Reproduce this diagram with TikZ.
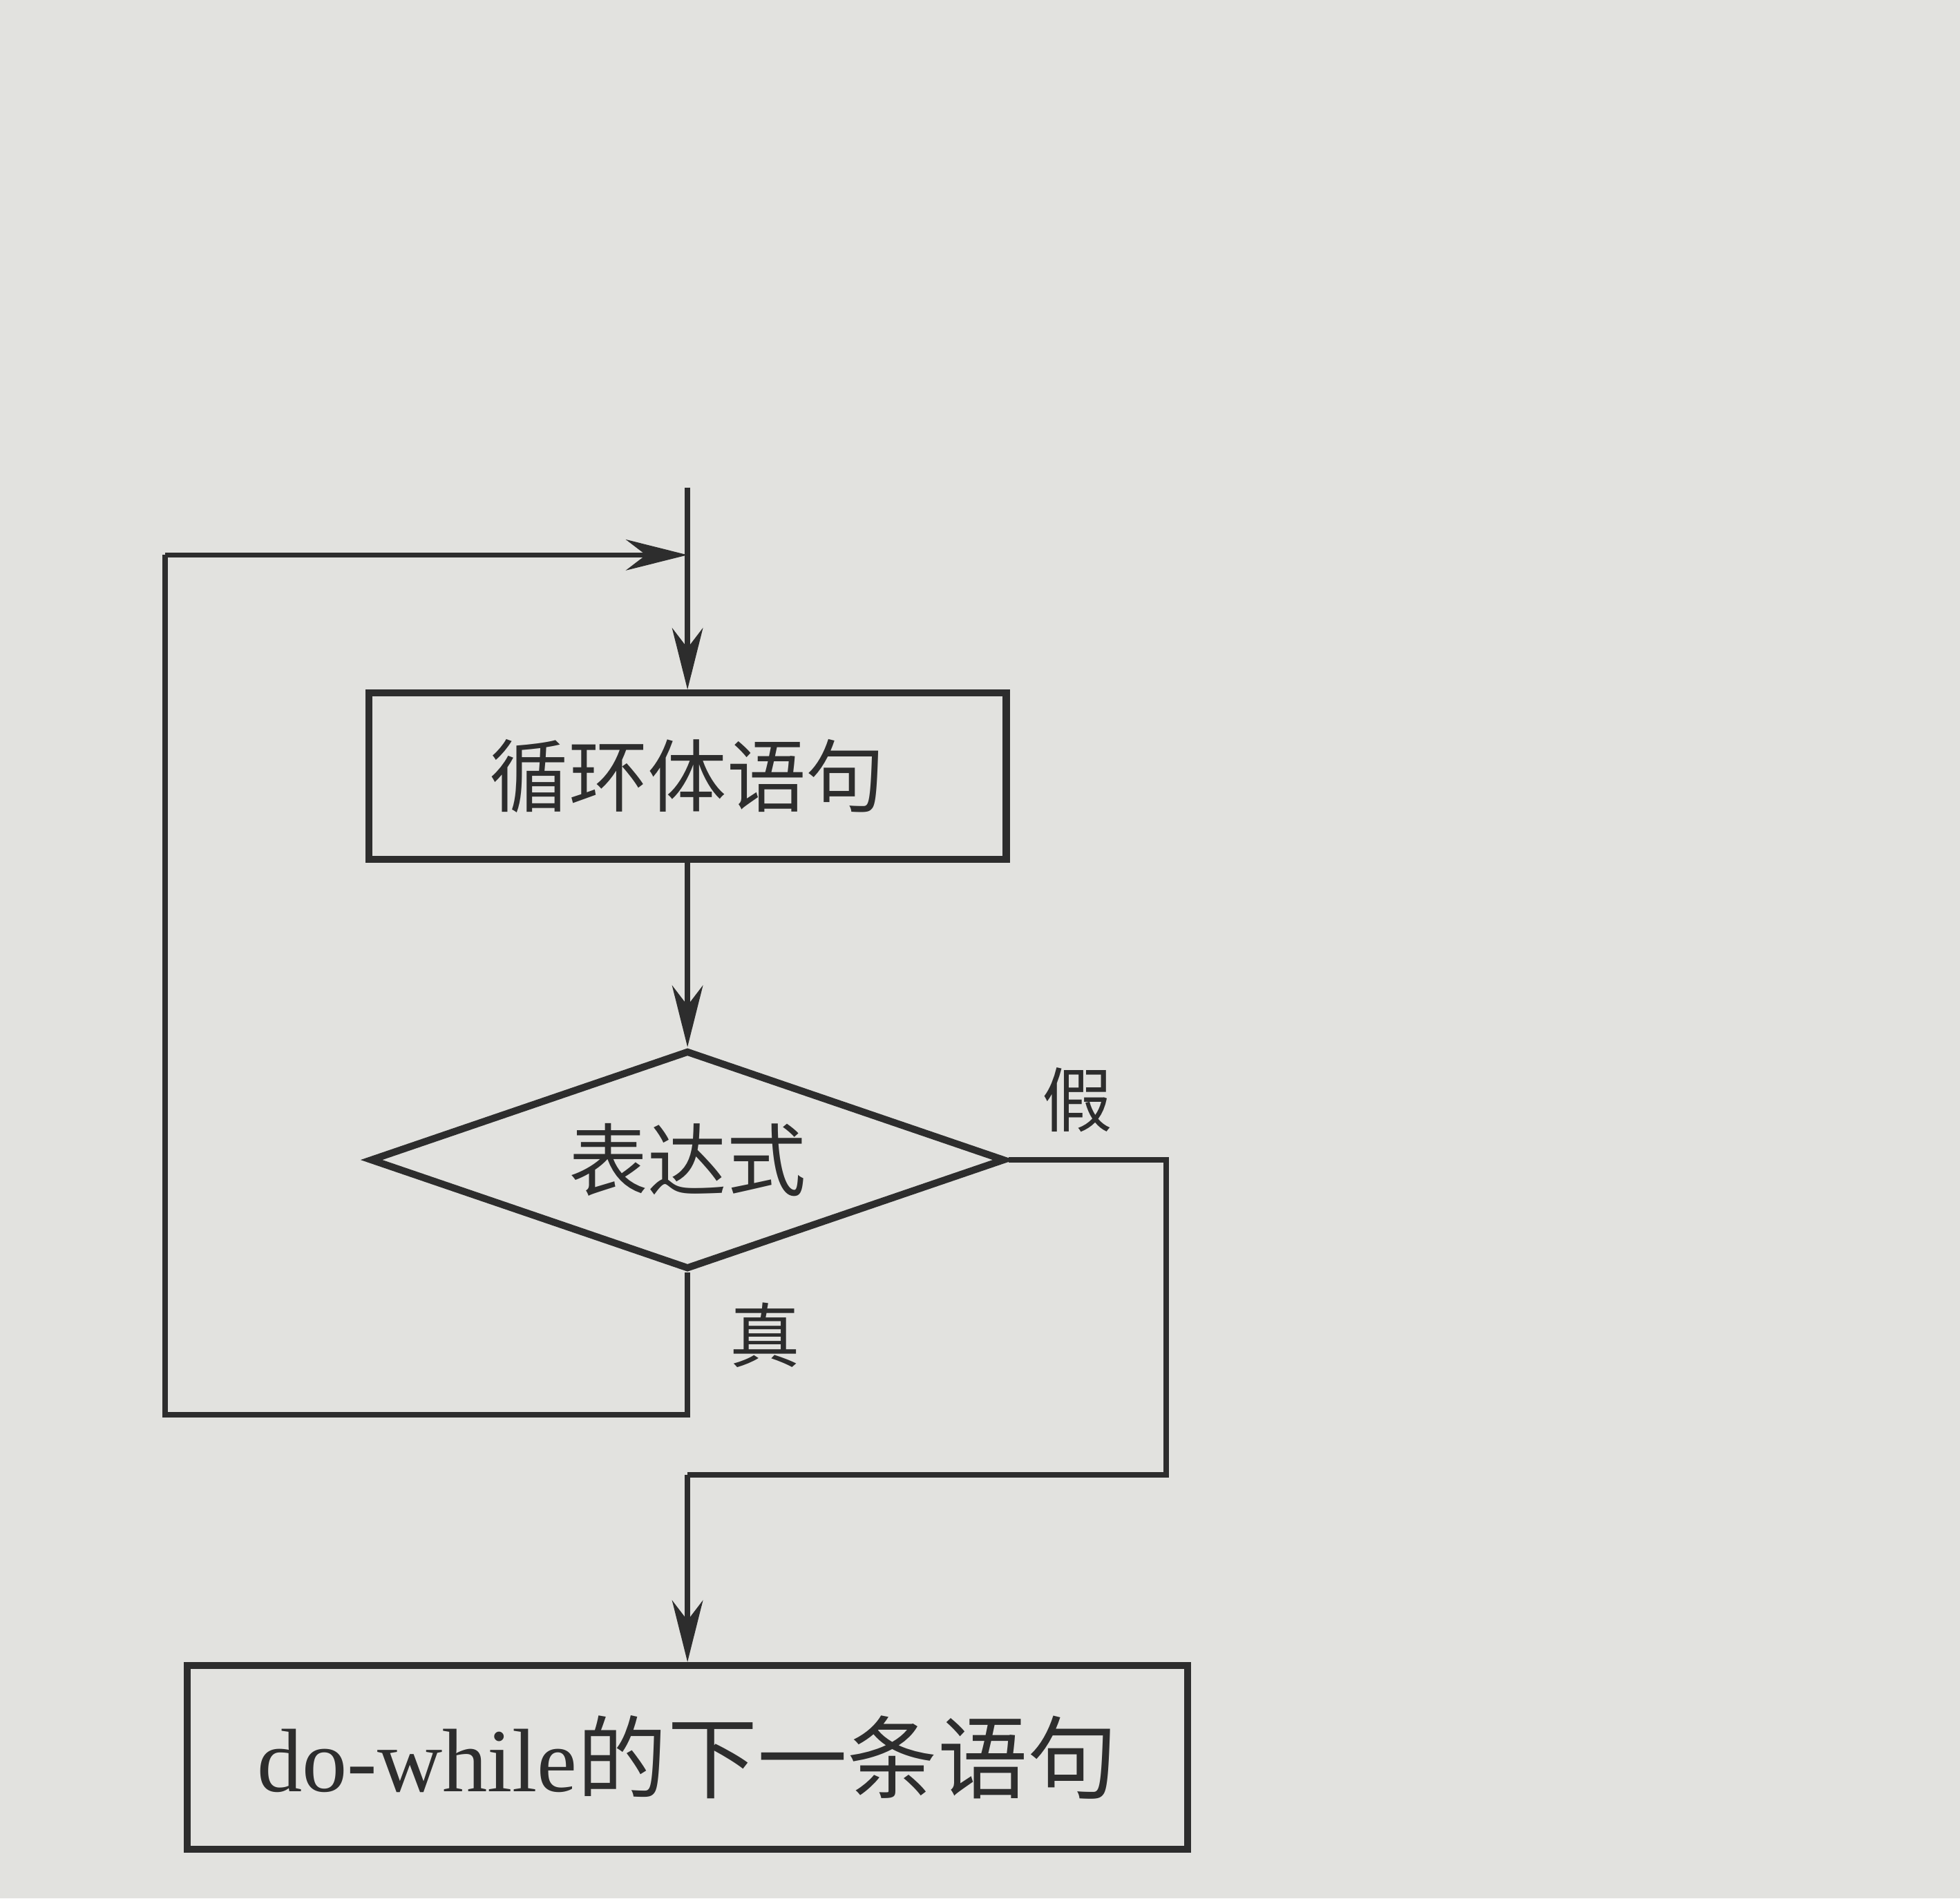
\documentclass[tikz,border=0pt]{standalone}
\usepackage{fontspec}
\setmainfont{Liberation Serif}
\newfontfamily\cjk{Noto Sans CJK SC}
\usetikzlibrary{shapes.geometric,arrows.meta}
\definecolor{bg}{RGB}{226,226,223}
\definecolor{ink}{RGB}{45,45,45}
\tikzset{
  flow/.style={draw=ink,line width=1.2pt},
  arr/.style={flow,-{Stealth[length=14pt,width=7pt]}},
  boxn/.style={draw=ink,line width=1.6pt,inner sep=0pt,text=ink},
  lbl/.style={text=ink,font=\cjk\fontsize{16}{18}\selectfont}
}
\begin{document}
\begin{tikzpicture}[x=0.1mm,y=-0.1mm]
\fill[bg] (0,0) rectangle (1568,1519);
\useasboundingbox (0,0) rectangle (1568,1519);
\coordinate (start) at (550,390);
\node[boxn,minimum width=51mm,minimum height=13.3mm,font=\cjk\fontsize{18}{20}\selectfont] (body) at (550,621) {循环体语句};
\node[boxn,diamond,aspect=2.9,minimum width=50.8mm,minimum height=17.5mm,font=\cjk\fontsize{18}{20}\selectfont] (cond) at (550,928) {表达式};
\node[boxn,minimum width=80mm,minimum height=14.7mm,font=\fontsize{20.5}{22}\selectfont] (next) at (550,1406) {do-while{\cjk 的下一条语句}};
\node[lbl] (f) at (862,880) {假};
\node[lbl] (t) at (612,1068) {真};
\coordinate (tj) at (550,1132);
\coordinate (tl) at (132,1132);
\coordinate (tt) at (132,444);
\coordinate (mj) at (550,444);
\coordinate (fr) at (933,928);
\coordinate (fb) at (933,1180);
\coordinate (fm) at (550,1180);
\draw[arr] (start) -- (body.north);
\draw[arr] (body.south) -- (cond.north);
\draw[flow] (cond.south) -- (tj) -- (tl) -- (tt);
\draw[arr] (tt) -- (mj);
\draw[flow] (cond.east) -- (fr) -- (fb) -- (fm);
\draw[arr] (fm) -- (next.north);
\end{tikzpicture}
\end{document}
